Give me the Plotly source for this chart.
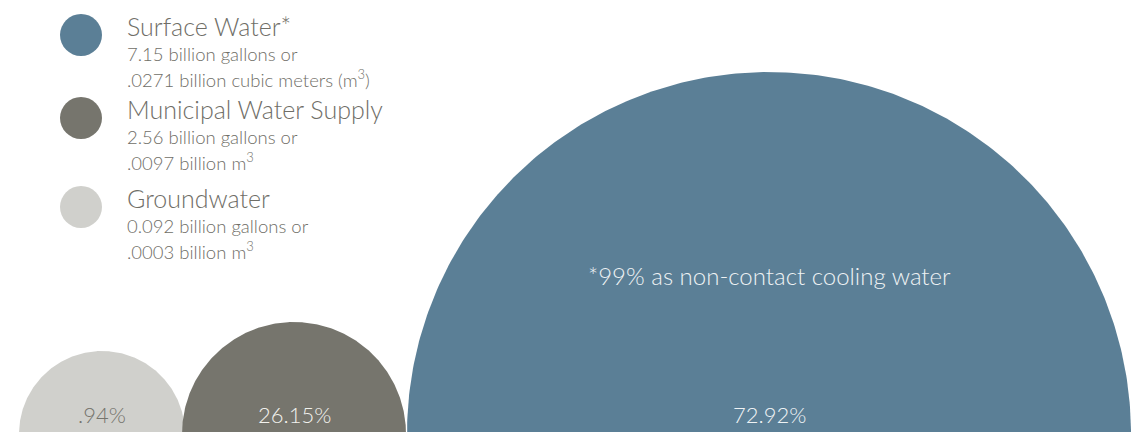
import numpy as np
import plotly.graph_objects as go

# ---- data ----
sources = ["Surface Water*", "Municipal Water Supply", "Groundwater"]
gallons = ["7.15", "2.56", "0.092"]
cubic_meters = [".0271", ".0097", ".0003"]
shares = [72.92, 26.15, 0.94]
share_labels = ["72.92%", "26.15%", ".94%"]
note = "*99% as non-contact cooling water"

# ---- styles / layout ----
W, H = 1140, 432
PAD = 8  # page body margin
colors = ["#5B7F96", "#76756D", "#D0D0CC"]
label_colors = ["#EEF2F4", "#F2F2EE", "#75746C"]
bubble_cx = [769, 294, 102]
bubble_r = [362, 112, 83]
bubble_cy = 434
legend_y = [35, 118, 207]
text_color = "#6F6E67"
FONT = "Lato, 'Open Sans', sans-serif"

fig = go.Figure()

t = np.linspace(0, 2 * np.pi, 500)
for i in [2, 1, 0]:
    fig.add_trace(go.Scatter(
        x=bubble_cx[i] + bubble_r[i] * np.cos(t),
        y=bubble_cy + bubble_r[i] * np.sin(t),
        mode="lines", fill="toself", fillcolor=colors[i],
        line=dict(width=0, color=colors[i]), hoverinfo="skip", showlegend=False))

fig.add_trace(go.Scatter(
    x=[81] * 3, y=legend_y, mode="markers",
    marker=dict(size=42, color=colors, line=dict(width=0)),
    hoverinfo="skip", showlegend=False))

ann = []
offsets = [-9, 19, 43]
for i, name in enumerate(sources):
    y0 = legend_y[i]
    line2 = f"{gallons[i]} billion gallons or"
    if i == 0:
        line3 = f"{cubic_meters[i]} billion cubic meters (m<sup>3</sup>)"
    else:
        line3 = f"{cubic_meters[i]} billion m<sup>3</sup>"
    for txt, off, size in [(name, offsets[0], 25), (line2, offsets[1], 18.5), (line3, offsets[2], 18.5)]:
        ann.append(dict(x=125, y=y0 + off, text=txt, showarrow=False,
                        xanchor="left", yanchor="middle",
                        font=dict(family=FONT, size=size, color=text_color, weight=300)))

for i in range(3):
    ann.append(dict(x=bubble_cx[i], y=414, text=share_labels[i], showarrow=False,
                    xanchor="center", yanchor="middle",
                    font=dict(family=FONT, size=22, color=label_colors[i], weight=300)))

ann.append(dict(x=bubble_cx[0], y=275, text=note, showarrow=False,
                xanchor="center", yanchor="middle",
                font=dict(family=FONT, size=24, color="#EEF2F4", weight=300)))

fig.update_layout(
    width=W - PAD, height=H - PAD, margin=dict(l=0, r=0, t=0, b=0),
    paper_bgcolor="white", plot_bgcolor="white",
    xaxis=dict(range=[PAD, W], visible=False, fixedrange=True),
    yaxis=dict(range=[H, PAD], visible=False, fixedrange=True),
    annotations=ann, showlegend=False)

fig.write_html("out.html")
